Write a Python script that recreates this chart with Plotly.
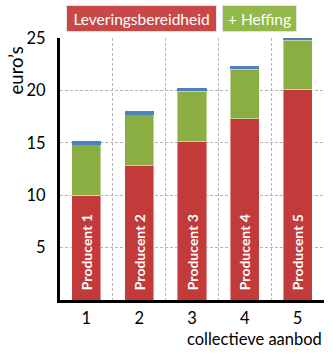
import plotly.graph_objects as go

categories = ["1", "2", "3", "4", "5"]
producers = ["Producent 1", "Producent 2", "Producent 3", "Producent 4", "Producent 5"]
levering = [10.0, 12.8, 15.1, 17.3, 20.1]
heffing = [4.8, 4.9, 4.8, 4.7, 4.7]
cap = [0.35, 0.35, 0.35, 0.35, 0.35]
y_ticks = [5, 10, 15, 20, 25]

FONT = "Lato"

fig = go.Figure()
fig.add_trace(go.Bar(
    x=categories, y=levering, text=["\u00a0\u00a0" + p for p in producers],
    textposition="inside", insidetextanchor="start", textangle=-90,
    textfont=dict(family=FONT, size=14, color="white", weight="bold"),
    marker=dict(color="#c23a3a", line=dict(color="rgba(255,255,255,0.45)", width=1)),
    width=0.55, showlegend=False,
))
fig.add_trace(go.Bar(
    x=categories, y=heffing,
    marker=dict(color="#8aae42", line=dict(color="rgba(255,255,255,0.45)", width=1)),
    width=0.55, showlegend=False,
))
fig.add_trace(go.Bar(
    x=categories, y=cap,
    marker=dict(color="#4f81bd", line=dict(width=0)),
    width=0.55, showlegend=False,
))

fig.update_layout(
    barmode="stack",
    width=333, height=358,
    margin=dict(l=60, r=9, t=38, b=58),
    paper_bgcolor="white", plot_bgcolor="white",
    font=dict(family=FONT, size=16.5, color="#000"),
    uniformtext=dict(minsize=14, mode="show"),
    xaxis=dict(
        type="category", tickson="boundaries", ticklen=0,
        showgrid=True, gridcolor="#b5b5b5", griddash="3px,2px", gridwidth=1,
        showline=True, linecolor="black", linewidth=3,
        tickfont=dict(family=FONT, size=16.5), ticklabelstandoff=1,
    ),
    yaxis=dict(
        range=[0, 25], tickvals=y_ticks,
        showgrid=True, gridcolor="#b5b5b5", griddash="3px,2px", gridwidth=1,
        showline=True, linecolor="black", linewidth=3, zeroline=False,
        tickfont=dict(family=FONT, size=16.5), ticklabelstandoff=8,
    ),
    annotations=[
        dict(text="euro’s", textangle=-90, xref="paper", yref="paper",
             x=-0.165, y=0.878, showarrow=False, xanchor="center", yanchor="middle",
             font=dict(family=FONT, size=18.5)),
        dict(text="collectieve aanbod", xref="paper", yref="paper",
             x=1.0, y=-0.148, showarrow=False, xanchor="right", yanchor="middle",
             font=dict(family=FONT, size=16.5)),
        dict(text="Leveringsbereidheid", xref="paper", yref="paper",
             x=0.3075, y=1.074, showarrow=False, xanchor="center", yanchor="middle",
             width=147, height=23, borderpad=1, bgcolor="#c84848",
             bordercolor="#e2e2e2", borderwidth=1,
             font=dict(family=FONT, size=15.5, color="white")),
        dict(text="+ Heffing", xref="paper", yref="paper",
             x=0.757, y=1.074, showarrow=False, xanchor="center", yanchor="middle",
             width=71, height=23, borderpad=1, bgcolor="#92b94a",
             bordercolor="#e2e2e2", borderwidth=1,
             font=dict(family=FONT, size=15.5, color="white")),
    ],
)

fig.write_html("out.html")
